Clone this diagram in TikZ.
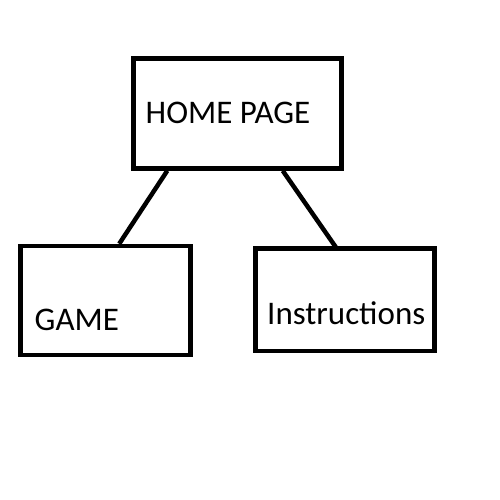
\documentclass[tikz,border=0pt]{standalone}
\usepackage{fontspec}
\setmainfont{Carlito}
\usepackage{tikz}
\usetikzlibrary{positioning}

\begin{document}
\begin{tikzpicture}[x=1pt,y=-1pt,
    pagebox/.style={draw=black,line width=4.5pt,inner sep=0pt},
    pagetext/.style={anchor=base west,inner sep=0pt,font=\fontsize{33}{38}\selectfont},
    link/.style={draw=black,line width=4.5pt}]
  \useasboundingbox (0,0) rectangle (500,500);
  % boxes
  \node[pagebox,minimum width=208pt,minimum height=110pt] (home) at (237.5,113.5) {};
  \node[pagebox,minimum width=170pt,minimum height=109pt] (game) at (105.5,300.5) {};
  \node[pagebox,minimum width=179pt,minimum height=102.5pt] (instr) at (345,299.75) {};
  % labels
  \node[pagetext] (hometext) at (145.5,123) {HOME PAGE};
  \node[pagetext] (gametext) at (34.5,330) {GAME};
  \node[pagetext] (instrtext) at (267,324) {Instructions};
  % links
  \draw[link] ([xshift=36pt]home.south west) -- ([xshift=101pt]game.north west);
  \draw[link] ([xshift=-61pt]home.south east) -- ([xshift=84pt,yshift=-3pt]instr.north west);
\end{tikzpicture}
\end{document}
